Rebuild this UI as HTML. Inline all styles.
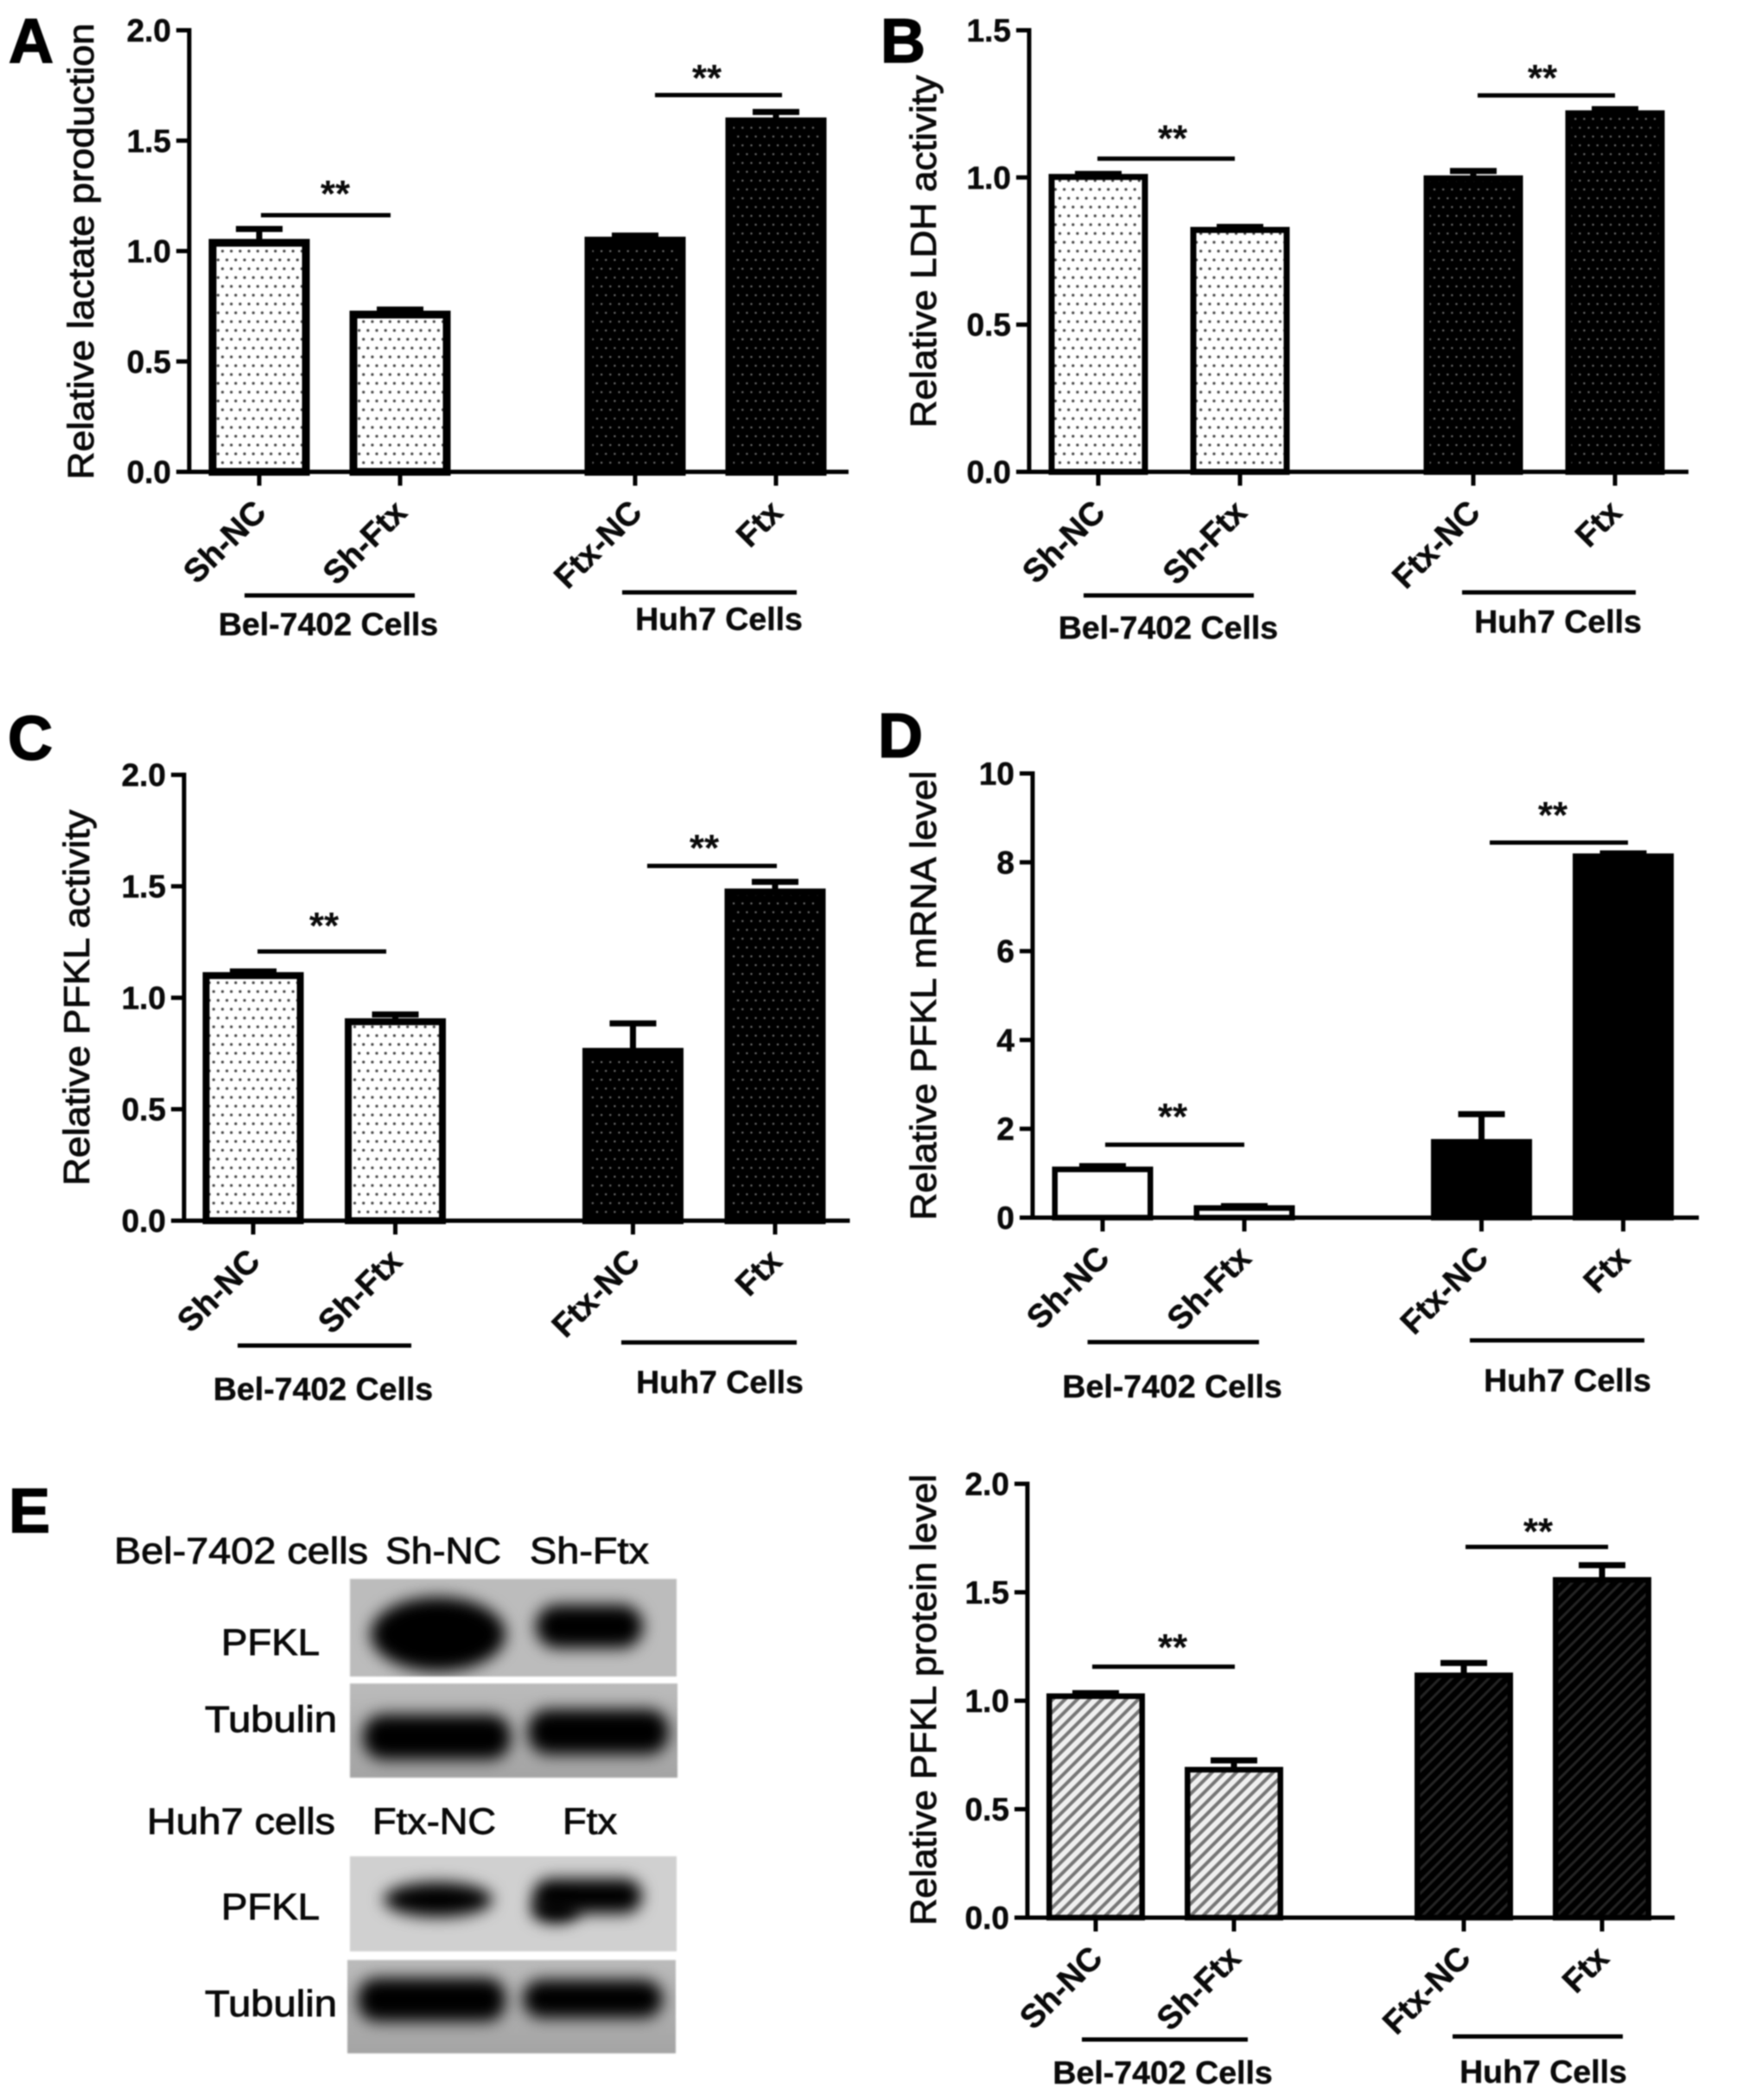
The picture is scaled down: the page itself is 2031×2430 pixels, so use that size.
<!DOCTYPE html>
<html lang="en">
<head>
<meta charset="utf-8">
<title>Ftx glycolysis figure panels A-E</title>
<style>
html,body{margin:0;padding:0;background:#fff;width:2031px;height:2430px;overflow:hidden}
svg{display:block;filter:blur(0.7px)}
text{font-family:"Liberation Sans",sans-serif;fill:#0a0a0a}
.blot-text{font-size:43px;stroke:#0a0a0a;stroke-width:.9px}
.letter{font-size:72px;font-weight:bold;fill:#000;stroke:#000;stroke-width:1.5px}
</style>
</head>
<body>
<svg id="figure" xmlns="http://www.w3.org/2000/svg" width="2031" height="2430" viewBox="0 0 2031 2430">
<defs>
<pattern id="dots-light" width="10.2" height="20.4" patternUnits="userSpaceOnUse">
<rect width="10.2" height="20.4" fill="#fff"/><circle cx="2.5" cy="5" r="1.6" fill="#444"/><circle cx="7.6" cy="15.2" r="1.6" fill="#444"/>
</pattern>
<pattern id="dots-dark" width="10.2" height="20.4" patternUnits="userSpaceOnUse">
<rect width="10.2" height="20.4" fill="#000"/><circle cx="2.5" cy="5" r="1.2" fill="#777"/><circle cx="7.6" cy="15.2" r="1.2" fill="#777"/>
</pattern>
<pattern id="hatch-light" width="10" height="10" patternUnits="userSpaceOnUse" patternTransform="rotate(45)">
<rect width="10" height="10" fill="#f0f0f0"/><rect width="4" height="10" fill="#777"/>
</pattern>
<pattern id="hatch-dark" width="10" height="10" patternUnits="userSpaceOnUse" patternTransform="rotate(45)">
<rect width="10" height="10" fill="#000"/><rect width="3" height="10" fill="#242424"/>
</pattern>
<linearGradient id="blot-shade" x1="0" y1="0" x2="0" y2="1">
<stop offset="0" stop-color="#bbb"/><stop offset="1" stop-color="#a4a4a4"/>
</linearGradient>
<filter id="band-blur" x="-40%" y="-80%" width="180%" height="260%"><feGaussianBlur stdDeviation="9"/></filter>
</defs>

<text class="letter" x="10" y="72">A</text>
<text class="letter" x="1019" y="72">B</text>
<text class="letter" x="9" y="879">C</text>
<text class="letter" x="1016" y="876">D</text>
<text class="letter" x="10" y="1773">E</text>

<g id="western-blot">
<text class="blot-text" x="132" y="1809" textLength="294" lengthAdjust="spacingAndGlyphs">Bel-7402 cells</text>
<text class="blot-text" x="446" y="1809" textLength="134" lengthAdjust="spacingAndGlyphs">Sh-NC</text>
<text class="blot-text" x="613" y="1809" textLength="138" lengthAdjust="spacingAndGlyphs">Sh-Ftx</text>
<text class="blot-text" x="256" y="1915" textLength="114" lengthAdjust="spacingAndGlyphs">PFKL</text>
<text class="blot-text" x="237" y="2004" textLength="153" lengthAdjust="spacingAndGlyphs">Tubulin</text>
<text class="blot-text" x="170" y="2122" textLength="218" lengthAdjust="spacingAndGlyphs">Huh7 cells</text>
<text class="blot-text" x="431" y="2122" textLength="143" lengthAdjust="spacingAndGlyphs">Ftx-NC</text>
<text class="blot-text" x="651" y="2122" textLength="63" lengthAdjust="spacingAndGlyphs">Ftx</text>
<text class="blot-text" x="256" y="2221" textLength="114" lengthAdjust="spacingAndGlyphs">PFKL</text>
<text class="blot-text" x="237" y="2333" textLength="153" lengthAdjust="spacingAndGlyphs">Tubulin</text>

<svg x="405" y="1827" width="378" height="113">
<rect width="378" height="113" fill="#bcbcbc"/>
<ellipse cx="102" cy="64" rx="78" ry="43" fill="#000" filter="url(#band-blur)"/>
<rect x="215" y="30" width="124" height="50" rx="25" fill="#000" filter="url(#band-blur)"/>
</svg>
<svg x="405" y="1948" width="379" height="109">
<rect width="379" height="109" fill="url(#blot-shade)"/>
<rect x="15" y="36" width="171" height="52" rx="24" fill="#000" filter="url(#band-blur)"/>
<rect x="206" y="30" width="163" height="52" rx="24" fill="#000" filter="url(#band-blur)"/>
</svg>
<svg x="405" y="2148" width="378" height="110">
<rect width="378" height="110" fill="#d0d0d0"/>
<ellipse cx="102" cy="50" rx="63" ry="20" fill="#000" filter="url(#band-blur)"/>
<rect x="212" y="26" width="126" height="40" rx="20" fill="#000" filter="url(#band-blur)"/>
<ellipse cx="238" cy="62" rx="28" ry="15" fill="#000" filter="url(#band-blur)"/>
</svg>
<svg x="402" y="2268" width="380" height="108">
<rect width="380" height="108" fill="url(#blot-shade)"/>
<rect x="12" y="21" width="171" height="50" rx="22" fill="#000" filter="url(#band-blur)"/>
<rect x="203" y="23" width="162" height="44" rx="22" fill="#000" filter="url(#band-blur)"/>
</svg>
</g>

<g id="charts"></g>
</svg>

<script>
const categories = ['Sh-NC', 'Sh-Ftx', 'Ftx-NC', 'Ftx'];
const cellGroups = ['Bel-7402 Cells', 'Huh7 Cells'];

const panelATitle = 'Relative lactate production';
const panelAValues = [1.055, 0.73, 1.065, 1.605];
const panelAErrors = [1.10, 0.735, 1.07, 1.63];
const panelATicks = ['0.0', '0.5', '1.0', '1.5', '2.0'];

const panelBTitle = 'Relative LDH activity';
const panelBValues = [1.012, 0.832, 1.007, 1.228];
const panelBErrors = [1.012, 0.832, 1.022, 1.232];
const panelBTicks = ['0.0', '0.5', '1.0', '1.5'];

const panelCTitle = 'Relative PFKL activity';
const panelCValues = [1.115, 0.908, 0.775, 1.49];
const panelCErrors = [1.118, 0.925, 0.885, 1.52];
const panelCTicks = ['0.0', '0.5', '1.0', '1.5', '2.0'];

const panelDTitle = 'Relative PFKL mRNA level';
const panelDValues = [1.15, 0.28, 1.77, 8.2];
const panelDErrors = [1.16, 0.26, 2.33, 8.2];
const panelDTicks = ['0', '2', '4', '6', '8', '10'];

const panelETitle = 'Relative PFKL protein level';
const panelEValues = [1.034, 0.695, 1.13, 1.57];
const panelEErrors = [1.035, 0.725, 1.174, 1.625];
const panelETicks = ['0.0', '0.5', '1.0', '1.5', '2.0'];

const panelFrames = [
  {id:'a', title:panelATitle, values:panelAValues, errors:panelAErrors, ticks:panelATicks,
   axisX:219, top:35, base:546, right:982, x0:300, step:163, gap:109, barW:117, sw:9,
   fills:['url(#dots-light)','url(#dots-dark)'],
   titleX:108, titleBottom:555, titleLen:528,
   sigs:[[302,452,249,388,214],[758,905,110,818,80]],
   groups:[[283,480,689,380,735],[720,922,685.5,832,729]]},
  {id:'b', title:panelBTitle, values:panelBValues, errors:panelBErrors, ticks:panelBTicks,
   axisX:1191, top:35, base:546, right:1954, x0:1271, step:164, gap:106, barW:115, sw:7,
   fills:['url(#dots-light)','url(#dots-dark)'],
   titleX:1083, titleBottom:495, titleLen:408,
   sigs:[[1270,1429,183.6,1357,150],[1710,1869,110.4,1785,80]],
   groups:[[1254,1451,689,1352,739],[1692,1893,685.5,1803,732]]},
  {id:'c', title:panelCTitle, values:panelCValues, errors:panelCErrors, ticks:panelCTicks,
   axisX:213, top:896.6, base:1412.5, right:983.5, x0:293, step:164.5, gap:110.5, barW:117, sw:8,
   fills:['url(#dots-light)','url(#dots-dark)'],
   titleX:103, titleBottom:1372, titleLen:435,
   sigs:[[298,447,1101,375,1061],[749,899,1002,815,971]],
   groups:[[275,476,1557,374,1620],[719,922,1553.4,833,1612]]},
  {id:'d', title:panelDTitle, values:panelDValues, errors:panelDErrors, ticks:panelDTicks,
   axisX:1195, top:895, base:1409, right:1966, x0:1276, step:164, gap:110.5, barW:117, sw:6.5,
   fills:['#fff','#000'],
   titleX:1083, titleBottom:1412, titleLen:520,
   sigs:[[1279,1440,1324.6,1357,1282],[1724,1884,975,1797,933]],
   groups:[[1258.6,1457,1553,1356.6,1617],[1701,1903,1551,1814,1610]]},
  {id:'e', title:panelETitle, values:panelEValues, errors:panelEErrors, ticks:panelETicks,
   axisX:1189, top:1717, base:2219, right:1938, x0:1268, step:160, gap:106, barW:114, sw:6.5,
   fills:['url(#hatch-light)','url(#hatch-dark)'],
   titleX:1083, titleBottom:2228, titleLen:522,
   sigs:[[1264,1429,1928.6,1357,1896],[1696,1861,1790,1780,1762]],
   groups:[[1252,1444,2360,1345.6,2411],[1681,1878,2356.5,1786,2410]]}
];

const SVG_NS = 'http://www.w3.org/2000/svg';
const chartsRoot = document.getElementById('charts');

function make(tag, attrs, parent) {
  const el = document.createElementNS(SVG_NS, tag);
  for (const k in attrs) el.setAttribute(k, attrs[k]);
  parent.appendChild(el);
  return el;
}

panelFrames.forEach(function (p) {
  const g = make('g', {}, chartsRoot);
  
  

  const yMax = parseFloat(p.ticks[p.ticks.length - 1]);
  const yScale = function (v) { return p.base - (v / yMax) * (p.base - p.top); };
  const xScale = function (i) { return p.x0 + p.step * i + (i >= 2 ? p.gap : 0); };

  // bars and error bars
  p.values.forEach(function (v, i) {
    const cx = xScale(i);
    const top = yScale(v);
    const errTop = yScale(p.errors[i]);

    const stem = make('rect', {x: cx - 3.5, y: errTop, width: 7, height: Math.max(top - errTop, 0) + 2, fill: '#000'}, g);
    
    

    const cap = make('rect', {x: cx - 27, y: errTop - 3.5, width: 54, height: 7, fill: '#000'}, g);
    
    

    const bar = make('rect', {
      x: cx - p.barW / 2 + p.sw / 2,
      y: top + p.sw / 2,
      width: p.barW - p.sw,
      height: Math.max(p.base - top - p.sw / 2, 0),
      fill: p.fills[i < 2 ? 0 : 1],
      stroke: '#000',
      'stroke-width': p.sw
    }, g);
    
    

    const xTick = make('rect', {x: cx - 2.5, y: p.base, width: 5, height: 16, fill: '#000'}, g);
    
    

    const bx = cx + 10;
    const by = p.base + 49;
    const xLabel = make('text', {
      x: bx, y: by,
      'text-anchor': 'end',
      'font-size': 38,
      'font-weight': 'bold',
      stroke: '#0a0a0a',
      'stroke-width': 0.5,
      transform: 'rotate(-45 ' + bx + ' ' + by + ')'
    }, g);
    xLabel.textContent = categories[i];
    
    
  });

  // axes
  const yAxis = make('rect', {x: p.axisX - 2.5, y: p.top - 2.5, width: 5, height: p.base - p.top + 5, fill: '#000'}, g);
  
  

  const xAxis = make('rect', {x: p.axisX - 15, y: p.base - 2.5, width: p.right - p.axisX + 15, height: 5, fill: '#000'}, g);
  
  

  p.ticks.forEach(function (t) {
    const ty = yScale(parseFloat(t));

    const tick = make('rect', {x: p.axisX - 15, y: ty - 2.5, width: 15, height: 5, fill: '#000'}, g);
    
    

    const label = make('text', {
      x: p.axisX - 21, y: ty + 13,
      'text-anchor': 'end',
      'font-size': 37,
      'font-weight': 'bold',
      stroke: '#0a0a0a',
      'stroke-width': 0.5
    }, g);
    label.textContent = t;
    
    
  });

  // y axis title
  const yTitle = make('text', {
    x: p.titleX, y: p.titleBottom,
    'font-size': 42,
    stroke: '#0a0a0a',
    'stroke-width': 0.9,
    textLength: p.titleLen,
    lengthAdjust: 'spacingAndGlyphs',
    transform: 'rotate(-90 ' + p.titleX + ' ' + p.titleBottom + ')'
  }, g);
  yTitle.textContent = p.title;
  
  

  // significance brackets
  p.sigs.forEach(function (s, i) {
    const line = make('rect', {x: s[0], y: s[2] - 2.5, width: s[1] - s[0], height: 5, fill: '#000'}, g);
    
    

    const stars = make('text', {
      x: s[3], y: s[4] + 25,
      'text-anchor': 'middle',
      'font-size': 44,
      'font-weight': 'bold'
    }, g);
    stars.textContent = '**';
    
    
  });

  // group lines and labels
  p.groups.forEach(function (c, i) {
    const line = make('rect', {x: c[0], y: c[2] - 2.5, width: c[1] - c[0], height: 5, fill: '#000'}, g);
    
    

    const label = make('text', {
      x: c[3], y: c[4],
      'text-anchor': 'middle',
      'font-size': 37.5,
      'font-weight': 'bold',
      stroke: '#0a0a0a',
      'stroke-width': 0.4
    }, g);
    label.textContent = cellGroups[i];
    
    
  });
});
</script>
</body>
</html>
